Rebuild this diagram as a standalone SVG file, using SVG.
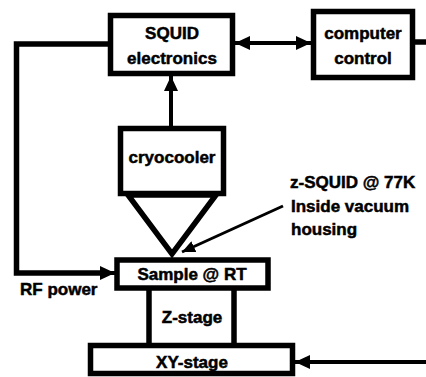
<svg xmlns="http://www.w3.org/2000/svg" width="426" height="377" viewBox="0 0 426 377">
<style>
.box{fill:#fff;stroke:#000;stroke-width:5.5}
.ln{fill:none;stroke:#000;stroke-width:5.5}
.ar{fill:none;stroke:#000;stroke-width:4}
text{font-family:"Liberation Sans",Arial,sans-serif;font-weight:bold;font-size:17px;fill:#000;stroke:#000;stroke-width:0.5}
.c{text-anchor:middle}
</style>
<defs>
<marker id="ah" markerUnits="userSpaceOnUse" markerWidth="16" markerHeight="14" refX="15" refY="7" orient="auto-start-reverse">
<path d="M0,0 L15,7 L0,14 Z" fill="#000"/>
</marker>
<marker id="ahs" markerUnits="userSpaceOnUse" markerWidth="14" markerHeight="12" refX="13" refY="6" orient="auto">
<path d="M0,0 L13,6 L0,12 Z" fill="#000"/>
</marker>
</defs>
<rect width="426" height="377" fill="#fff"/>
<g id="connectors">
<polyline class="ln" points="110,44 16.5,44 16.5,273 100,273"/>
<line class="ar" x1="100" y1="273" x2="115" y2="273" marker-end="url(#ah)"/>
<line class="ar" x1="171" y1="126" x2="171" y2="76" marker-end="url(#ah)"/>
<line class="ar" x1="235" y1="43" x2="311" y2="43" marker-start="url(#ah)" marker-end="url(#ah)"/>
<line class="ln" x1="415" y1="42" x2="426" y2="42"/>
<line class="ar" x1="426" y1="362" x2="295" y2="362" marker-end="url(#ah)"/>
<line x1="283" y1="206" x2="182" y2="252" stroke="#000" stroke-width="3" marker-end="url(#ahs)"/>
<line class="ln" x1="149" y1="290" x2="149" y2="345"/>
<line class="ln" x1="234" y1="290" x2="234" y2="345"/>
</g>
<g id="squid">
<rect class="box" x="110.5" y="15.5" width="122" height="58"/>
<text class="c" x="172" y="39">SQUID</text>
<text class="c" x="172" y="64">electronics</text>
</g>
<g id="computer">
<rect class="box" x="313.5" y="11.5" width="99" height="66"/>
<text class="c" x="363" y="39">computer</text>
<text class="c" x="363" y="64">control</text>
</g>
<g id="cryocooler">
<rect class="box" x="120.5" y="128.5" width="103" height="65"/>
<text class="c" x="172" y="163">cryocooler</text>
</g>
<g id="zsquid">
<polygon class="ln" points="128,195 216,195 172,254" stroke-linejoin="miter"/>
</g>
<g id="sample">
<rect class="box" x="117" y="260" width="151" height="28"/>
<text class="c" x="192" y="280">Sample @ RT</text>
</g>
<g id="zstage">
<text class="c" x="192" y="323">Z-stage</text>
</g>
<g id="xystage">
<rect class="box" x="90.5" y="345.5" width="202" height="28"/>
<text class="c" x="192" y="368">XY-stage</text>
</g>
<g id="labels">
<text x="290" y="188">z-SQUID @ 77K</text>
<text x="291" y="212">Inside vacuum</text>
<text x="291" y="235">housing</text>
<text x="20" y="295">RF power</text>
</g>
</svg>
